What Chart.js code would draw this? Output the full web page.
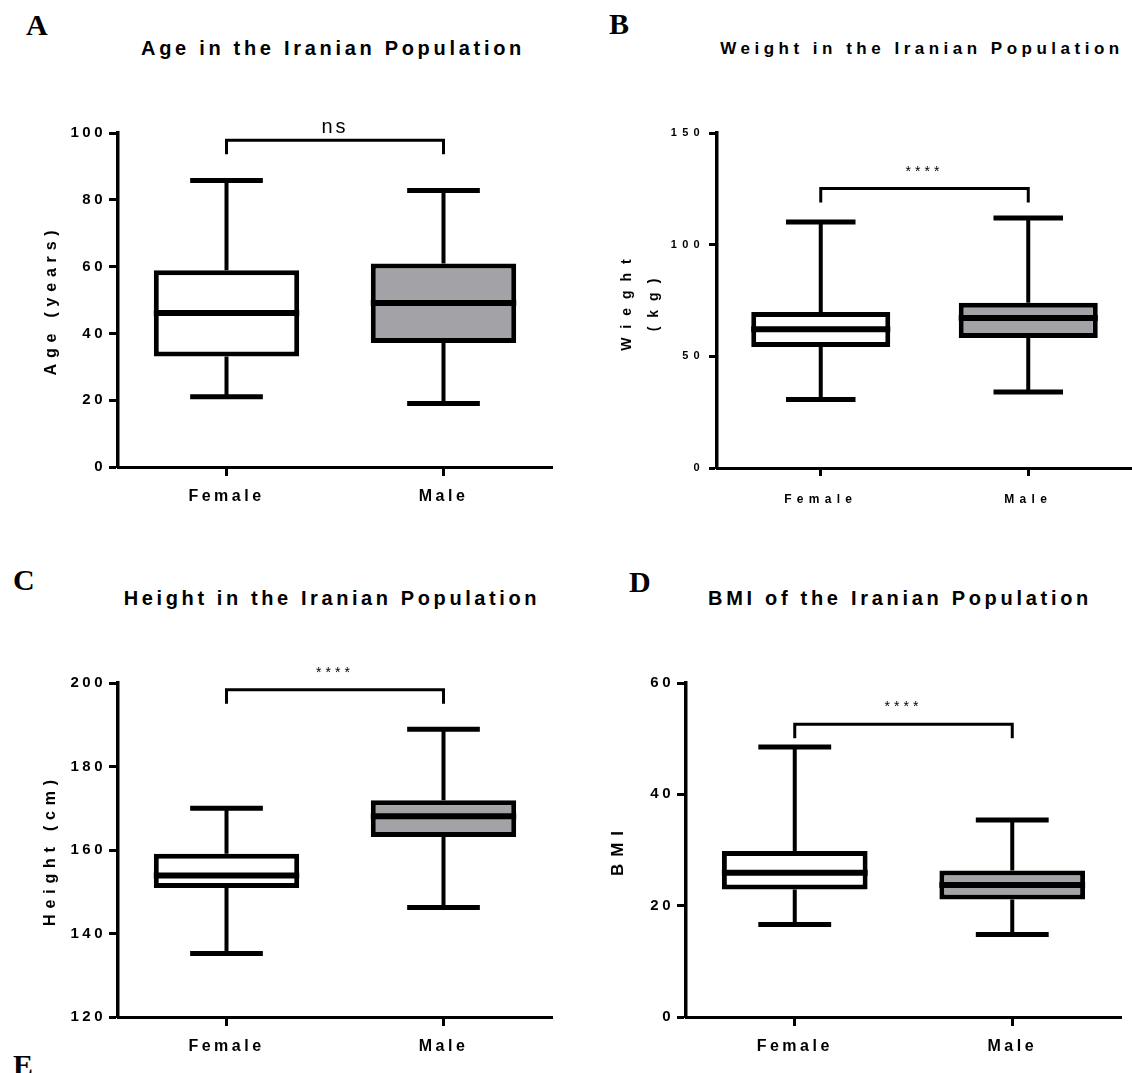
<!DOCTYPE html>
<html>
<head>
<meta charset="utf-8">
<script src="https://cdn.jsdelivr.net/npm/chart.js@4.4.1/dist/chart.umd.min.js"></script>
<style>
  body { margin: 0; background: #fff; }
  #wrap { position: relative; width: 1132px; height: 1073px; overflow: hidden; }
  canvas { position: absolute; }
  .tag { position: absolute; font: bold 30px "Liberation Serif"; line-height: 30px; color: #000; }
  .ttl { position: absolute; width: 600px; text-align: center; font-family: "Liberation Sans"; font-weight: bold; color: #000; white-space: nowrap; }
</style>
</head>
<body>
<div id="wrap">
  <div class="tag" style="left:26px;top:10px">A</div>
  <div class="tag" style="left:609px;top:9px">B</div>
  <div class="tag" style="left:13px;top:565px">C</div>
  <div class="tag" style="left:629px;top:567px">D</div>
  <div class="tag" style="left:13px;top:1050px">E</div>

  <div class="ttl" style="left:33px;top:38px;font-size:20px;line-height:20px;letter-spacing:3.7px">Age in the Iranian Population</div>
  <div class="ttl" style="left:622px;top:40px;font-size:17px;line-height:17px;letter-spacing:4.5px">Weight in the Iranian Population</div>
  <div class="ttl" style="left:32px;top:588px;font-size:20px;line-height:20px;letter-spacing:3.6px">Height in the Iranian Population</div>
  <div class="ttl" style="left:600px;top:588px;font-size:20px;line-height:20px;letter-spacing:3.7px">BMI of the Iranian Population</div>

  <canvas id="cA" width="566" height="540" style="left:0;top:0"></canvas>
  <canvas id="cB" width="566" height="540" style="left:566px;top:0"></canvas>
  <canvas id="cC" width="566" height="533" style="left:0;top:540px"></canvas>
  <canvas id="cD" width="566" height="533" style="left:566px;top:540px"></canvas>
</div>

<script>
// ── data ──
const groups = ['Female', 'Male'];
const boxFill = ['#ffffff', '#a3a2a7'];

// Age (years)
const ageMin = [21, 19];
const ageQ1 = [33.1, 37.1];
const ageMedian = [46.1, 49.1];
const ageQ3 = [58.9, 60.9];
const ageMax = [85.8, 82.8];
const ageTicks = [0, 20, 40, 60, 80, 100];

// Weight (kg)
const weightMin = [30.7, 34];
const weightQ1 = [54.2, 58.2];
const weightMedian = [62.1, 67.2];
const weightQ3 = [69.9, 74];
const weightMax = [110.1, 111.9];
const weightTicks = [0, 50, 100, 150];

// Height (cm)
const heightMin = [135.2, 146.2];
const heightQ1 = [150.9, 163.1];
const heightMedian = [153.9, 168.1];
const heightQ3 = [159.1, 171.9];
const heightMax = [170, 188.9];
const heightTicks = [120, 140, 160, 180, 200];

// BMI
const bmiMin = [16.6, 14.8];
const bmiQ1 = [22.9, 21.1];
const bmiMedian = [25.9, 23.7];
const bmiQ3 = [29.8, 26.3];
const bmiMax = [48.5, 35.4];
const bmiTicks = [0, 20, 40, 60];

// significance brackets (top of bracket, in axis units) and labels
const bracketTop = [97.8, 125.1, 198.4, 52.6];
const bracketLabel = ['ns', '****', '****', '****'];

const FONT = '"Liberation Sans", Arial, sans-serif';

function boxPanel(id, s) {
    // whiskers, caps, medians and the bracket, all placed through the chart scales
    const extras = {
        id: 'boxExtras',
        beforeDraw(chart) {
            chart.ctx.letterSpacing = s.titleSpacing + 'px';
        },
        beforeDatasetsDraw(chart) {
            const { ctx, scales: { y } } = chart;
            const meta = chart.getDatasetMeta(0);
            ctx.save();
            ctx.strokeStyle = '#000';
            ctx.lineCap = 'butt';
            meta.data.forEach((bar, i) => {
                const cx = bar.x;
                const half = bar.width * 0.5 / 2;
                const yMax = y.getPixelForValue(s.max[i]);
                const yMin = y.getPixelForValue(s.min[i]);
                ctx.lineWidth = 4;
                ctx.beginPath();
                ctx.moveTo(cx, y.getPixelForValue(s.q3[i]));
                ctx.lineTo(cx, yMax);
                ctx.moveTo(cx, y.getPixelForValue(s.q1[i]));
                ctx.lineTo(cx, yMin);
                ctx.stroke();
                ctx.lineWidth = 5;
                ctx.beginPath();
                ctx.moveTo(cx - half, yMax);
                ctx.lineTo(cx + half, yMax);
                ctx.moveTo(cx - half, yMin);
                ctx.lineTo(cx + half, yMin);
                ctx.stroke();
            });
            ctx.restore();
        },
        afterDatasetsDraw(chart) {
            const { ctx, scales: { y } } = chart;
            const meta = chart.getDatasetMeta(0);
            ctx.save();
            ctx.strokeStyle = '#000';
            ctx.lineWidth = 6;
            meta.data.forEach((bar, i) => {
                const ym = y.getPixelForValue(s.median[i]);
                ctx.beginPath();
                ctx.moveTo(bar.x - bar.width / 2, ym);
                ctx.lineTo(bar.x + bar.width / 2, ym);
                ctx.stroke();
            });

            // bracket
            const x0 = meta.data[0].x, x1 = meta.data[1].x;
            const yb = y.getPixelForValue(s.bracket);
            ctx.lineWidth = 3;
            ctx.lineJoin = 'miter';
            ctx.beginPath();
            ctx.moveTo(x0, yb + 14);
            ctx.lineTo(x0, yb);
            ctx.lineTo(x1, yb);
            ctx.lineTo(x1, yb + 14);
            ctx.stroke();

            ctx.fillStyle = '#000';
            ctx.font = s.sigFont;
            ctx.letterSpacing = s.sigSpacing + 'px';
            ctx.textAlign = 'center';
            ctx.textBaseline = 'alphabetic';
            ctx.fillText(s.sig, (x0 + x1) / 2, yb - s.sigGap);
            ctx.restore();

            // tick labels are drawn after the datasets (ticks.z = 1)
            ctx.letterSpacing = s.tickSpacing + 'px';
        }
    };

    return new Chart(document.getElementById(id), {
        type: 'bar',
        data: {
            labels: groups,
            datasets: [{
                data: s.q1.map((v, i) => [v, s.q3[i]]),
                backgroundColor: boxFill,
                borderColor: '#000',
                borderWidth: 5,
                borderSkipped: false,
                barPercentage: 0.67,
                categoryPercentage: 1
            }]
        },
        options: {
            responsive: false,
            animation: false,
            events: [],
            layout: { padding: s.pad },
            plugins: {
                legend: { display: false },
                tooltip: { enabled: false }
            },
            scales: {
                x: {
                    offset: true,
                    afterFit: (sc) => { sc.height = s.xHeight; },
                    border: { display: true, color: '#000', width: 3 },
                    grid: {
                        display: true, offset: false, drawOnChartArea: false, drawTicks: true,
                        tickLength: s.tickLen, tickWidth: 3, tickColor: '#000'
                    },
                    ticks: {
                        z: 1, color: '#000', padding: s.xPad, maxRotation: 0, autoSkip: false,
                        font: { family: FONT, size: s.xFont, weight: 'bold', lineHeight: 1.2 }
                    }
                },
                y: {
                    min: s.ticks[0],
                    max: s.ticks[s.ticks.length - 1],
                    afterBuildTicks: (sc) => { sc.ticks = s.ticks.map(v => ({ value: v })); },
                    afterFit: (sc) => { sc.width = s.axisLeft; },
                    border: { display: true, color: '#000', width: 3.5 },
                    grid: {
                        display: true, drawOnChartArea: false, drawTicks: true,
                        tickLength: s.tickLen, tickWidth: 3, tickColor: '#000'
                    },
                    ticks: {
                        z: 1, color: '#000', padding: s.yPad,
                        font: { family: FONT, size: s.yFont, weight: 'bold' }
                    },
                    title: {
                        display: true,
                        text: s.yTitle,
                        color: '#000',
                        padding: { top: s.titlePad, bottom: 0 },
                        font: { family: FONT, size: s.titleFont, weight: 'bold', lineHeight: s.titleLine }
                    }
                }
            }
        },
        plugins: [extras]
    });
}

boxPanel('cA', {
    min: ageMin, q1: ageQ1, median: ageMedian, q3: ageQ3, max: ageMax, ticks: ageTicks,
    bracket: bracketTop[0], sig: bracketLabel[0],
    sigFont: '20px ' + FONT, sigSpacing: 3, sigGap: 7,
    pad: { top: 133, right: 14, bottom: 0, left: 0 }, axisLeft: 118, xHeight: 73,
    tickLen: 9, yPad: 3, xPad: 11, yFont: 15, xFont: 16, tickSpacing: 3.5,
    yTitle: 'Age (years)', titleFont: 16, titleLine: 1.2, titlePad: 42.4, titleSpacing: 5.8
});

boxPanel('cB', {
    min: weightMin, q1: weightQ1, median: weightMedian, q3: weightQ3, max: weightMax, ticks: weightTicks,
    bracket: bracketTop[1], sig: bracketLabel[1],
    sigFont: '14px ' + FONT, sigSpacing: 4, sigGap: 13,
    pad: { top: 133, right: 0, bottom: 0, left: 0 }, axisLeft: 151, xHeight: 72,
    tickLen: 8, yPad: 4, xPad: 16, yFont: 11, xFont: 12, tickSpacing: 5.3,
    yTitle: ['Wieght', '(kg)'], titleFont: 14, titleLine: 1.9, titlePad: 48.2, titleSpacing: 9
});

boxPanel('cC', {
    min: heightMin, q1: heightQ1, median: heightMedian, q3: heightQ3, max: heightMax, ticks: heightTicks,
    bracket: bracketTop[2], sig: bracketLabel[2],
    sigFont: '14px ' + FONT, sigSpacing: 4, sigGap: 13,
    pad: { top: 143, right: 14, bottom: 0, left: 0 }, axisLeft: 118, xHeight: 56,
    tickLen: 9, yPad: 3, xPad: 11, yFont: 15, xFont: 16, tickSpacing: 3.5,
    yTitle: 'Height (cm)', titleFont: 16, titleLine: 1.2, titlePad: 41.4, titleSpacing: 5.8
});

boxPanel('cD', {
    min: bmiMin, q1: bmiQ1, median: bmiMedian, q3: bmiQ3, max: bmiMax, ticks: bmiTicks,
    bracket: bracketTop[3], sig: bracketLabel[3],
    sigFont: '14px ' + FONT, sigSpacing: 4, sigGap: 13,
    pad: { top: 143, right: 11, bottom: 0, left: 0 }, axisLeft: 120, xHeight: 56,
    tickLen: 9, yPad: 3, xPad: 11, yFont: 15, xFont: 16, tickSpacing: 3.5,
    yTitle: 'BMI', titleFont: 17, titleLine: 1.2, titlePad: 41.8, titleSpacing: 7
});
</script>
</body>
</html>
